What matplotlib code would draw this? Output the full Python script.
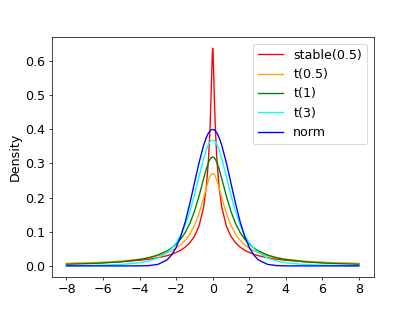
import matplotlib
matplotlib.use("Agg")
import matplotlib.pyplot as plt
import numpy as np

# x grid (symmetric around 0)
x = [-8, -7, -6, -5, -4, -3.5, -3, -2.5, -2.25, -2, -1.75, -1.5, -1.25, -1,
     -0.75, -0.5, -0.35, -0.25, -0.2, -0.15, -0.1, -0.05, -0.025,
     0,
     0.025, 0.05, 0.1, 0.15, 0.2, 0.25, 0.35, 0.5, 0.75, 1, 1.25, 1.5, 1.75,
     2, 2.25, 2.5, 3, 3.5, 4, 5, 6, 7, 8]

stable_05 = [0.0066, 0.0079, 0.0097, 0.0123, 0.0165, 0.0196, 0.0238, 0.0299,
             0.0340, 0.0393, 0.0459, 0.0549, 0.0679, 0.0861, 0.116, 0.171,
             0.231, 0.296, 0.341, 0.398, 0.475, 0.570, 0.616,
             0.6366,
             0.616, 0.570, 0.475, 0.398, 0.341, 0.296, 0.231, 0.171, 0.116,
             0.0861, 0.0679, 0.0549, 0.0459, 0.0393, 0.0340, 0.0299, 0.0238,
             0.0196, 0.0165, 0.0123, 0.0097, 0.0079, 0.0066]

t_05 = [0.0070, 0.0086, 0.0108, 0.0141, 0.0196, 0.0238, 0.0296, 0.0383,
        0.0443, 0.0519, 0.0618, 0.0751, 0.0932, 0.1183, 0.1532, 0.1990,
        0.2288, 0.2469, 0.2546, 0.2609, 0.2657, 0.2687, 0.2694,
        0.2697,
        0.2694, 0.2687, 0.2657, 0.2609, 0.2546, 0.2469, 0.2288, 0.1990, 0.1532,
        0.1183, 0.0932, 0.0751, 0.0618, 0.0519, 0.0443, 0.0383, 0.0296,
        0.0238, 0.0196, 0.0141, 0.0108, 0.0086, 0.0070]

t_1 = [0.0049, 0.0064, 0.0086, 0.0122, 0.0187, 0.0240, 0.0318, 0.0439,
       0.0525, 0.0637, 0.0784, 0.0979, 0.1242, 0.1592, 0.2037, 0.2546,
       0.2836, 0.2996, 0.3061, 0.3113, 0.3152, 0.3175, 0.3181,
       0.3183,
       0.3181, 0.3175, 0.3152, 0.3113, 0.3061, 0.2996, 0.2836, 0.2546, 0.2037,
       0.1592, 0.1242, 0.0979, 0.0784, 0.0637, 0.0525, 0.0439, 0.0318,
       0.0240, 0.0187, 0.0122, 0.0086, 0.0064, 0.0049]

t_3 = [0.0007, 0.0012, 0.0022, 0.0042, 0.0092, 0.0142, 0.0230, 0.0387,
       0.0509, 0.0675, 0.0900, 0.1200, 0.1589, 0.2067, 0.2606, 0.3132,
       0.3393, 0.3527, 0.3580, 0.3621, 0.3651, 0.3669, 0.3674,
       0.3676,
       0.3674, 0.3669, 0.3651, 0.3621, 0.3580, 0.3527, 0.3393, 0.3132, 0.2606,
       0.2067, 0.1589, 0.1200, 0.0900, 0.0675, 0.0509, 0.0387, 0.0230,
       0.0142, 0.0092, 0.0042, 0.0022, 0.0012, 0.0007]

norm = [0.0, 0.0, 0.0, 0.0, 0.0001, 0.0009, 0.0044, 0.0175,
        0.0317, 0.0540, 0.0863, 0.1295, 0.1826, 0.2420, 0.3011, 0.3521,
        0.3752, 0.3867, 0.3910, 0.3945, 0.3970, 0.3984, 0.3988,
        0.3989,
        0.3988, 0.3984, 0.3970, 0.3945, 0.3910, 0.3867, 0.3752, 0.3521, 0.3011,
        0.2420, 0.1826, 0.1295, 0.0863, 0.0540, 0.0317, 0.0175, 0.0044,
        0.0009, 0.0001, 0.0, 0.0, 0.0, 0.0]

labels = ["stable(0.5)", "t(0.5)", "t(1)", "t(3)", "norm"]
colors = ["red", "orange", "green", "cyan", "blue"]
series = [stable_05, t_05, t_1, t_3, norm]

plt.rcParams['font.size'] = 14

fig = plt.figure(figsize=(415 / 65, 311 / 65), dpi=65)
ax = fig.add_subplot(111)
for ys, lab, col in zip(series, labels, colors):
    ax.plot(x, ys, color=col, label=lab, linewidth=1.5)

ax.set_ylabel('Density')
ax.set_xticks(np.arange(-8, 9, 2))
ax.legend(loc='upper right')

fig.savefig('out.png', dpi=65)
